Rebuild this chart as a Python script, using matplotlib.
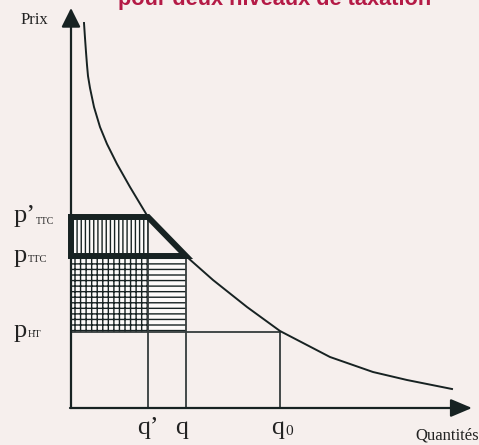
import numpy as np
import matplotlib
matplotlib.use('Agg')
import matplotlib.pyplot as plt

# demand curve (quantity, price)
curve_q = [13, 14, 15, 16, 17, 19, 23, 29, 36, 46, 59, 77, 96, 116, 142, 176, 209, 259, 302, 336, 381]
curve_p = [385, 370, 356, 343, 332, 320, 301, 281, 264, 244, 221, 191, 170, 151, 128, 101, 77, 51, 36, 28, 19]

# key levels
q_prime, q_tax, q_zero = 77, 115, 209
p_ttc2, p_ttc, p_ht = 191, 152, 76

bg = '#f6efed'
ink = '#172222'
thin = '#353c3c'
red = '#b41a46'
serif = 'Liberation Serif'

plt.rcParams['hatch.linewidth'] = 1.0

fig = plt.figure(figsize=(4.79, 4.45), dpi=100, facecolor=bg)
ax = fig.add_axes([0, 0, 1, 1])
ax.set_facecolor(bg)
ax.set_xlim(-71, 408)
ax.set_ylim(-37, 408)
ax.axis('off')

# hatched areas
ax.fill_between([0, q_prime], p_ttc, p_ttc2, facecolor='#fcfaf9', edgecolor=ink,
                hatch='||||', lw=0, zorder=1)
ax.fill_between([0, q_prime], p_ht, p_ttc, facecolor='#fcfaf9', edgecolor=ink,
                hatch='|||---', lw=0, zorder=1)
ax.fill_between([q_prime, q_tax], p_ht, p_ttc, facecolor='#fcfaf9', edgecolor=ink,
                hatch='---', lw=0, zorder=1)

# guide lines
ax.plot([q_prime, q_prime], [0, p_ttc2], color=thin, lw=1.3, zorder=2)
ax.plot([q_tax, q_tax], [0, p_ttc], color=thin, lw=1.3, zorder=2)
ax.plot([q_zero, q_zero], [0, p_ht], color=thin, lw=1.3, zorder=2)
ax.plot([0, q_zero], [p_ht, p_ht], color=thin, lw=1.3, zorder=2)

# thick outline of the tax area
ax.plot([0, q_prime, q_tax, 0, 0], [p_ttc2, p_ttc2, p_ttc, p_ttc, p_ttc2],
        color=ink, lw=4.3, solid_joinstyle='miter', zorder=4)

# demand curve
ax.plot(curve_q, curve_p, color=ink, lw=1.4, zorder=3)

# axes with arrows
ax.annotate('', xy=(0, 400), xytext=(0, 0),
            arrowprops=dict(arrowstyle='-|>,head_length=0.4,head_width=0.2',
                            mutation_scale=29, lw=1.6, color=ink,
                            shrinkA=0, shrinkB=0), zorder=5)
ax.annotate('', xy=(401, 0), xytext=(-1, 0),
            arrowprops=dict(arrowstyle='-|>,head_length=0.45,head_width=0.19',
                            mutation_scale=29, lw=1.6, color=ink,
                            shrinkA=0, shrinkB=0), zorder=5)

# labels
tc = '#222'
ax.text(-50, 384, 'Prix', family=serif, fontsize=12, color=tc, va='baseline')
ax.text(344, -32, 'Quantités', family=serif, fontsize=12, color=tc, va='baseline')

ax.text(-57, 186, 'p’', family=serif, fontsize=19, color=tc, va='baseline')
ax.text(-35, 184, 'TTC', family=serif, fontsize=7, color=tc, va='baseline')
ax.text(-57, 146, 'p', family=serif, fontsize=19, color=tc, va='baseline')
ax.text(-43, 146, 'TTC', family=serif, fontsize=7.5, color=tc, va='baseline')
ax.text(-57, 71, 'p', family=serif, fontsize=19, color=tc, va='baseline')
ax.text(-43, 71, 'HT', family=serif, fontsize=7.5, color=tc, va='baseline')

ax.text(66, -26, 'q’', family=serif, fontsize=18.5, color=tc, va='baseline')
ax.text(104, -26, 'q', family=serif, fontsize=18.5, color=tc, va='baseline')
ax.text(200, -26, 'q', family=serif, fontsize=18.5, color=tc, va='baseline')
ax.text(214, -27, '0', family=serif, fontsize=11, color=tc, va='baseline')

# title, cut by the top edge as in the source
ax.text(47, 403, 'pour deux niveaux de taxation', family='Liberation Sans',
        fontweight='bold', fontsize=15.7, color=red, va='baseline')

fig.savefig('out.png', dpi=100, facecolor=bg)
